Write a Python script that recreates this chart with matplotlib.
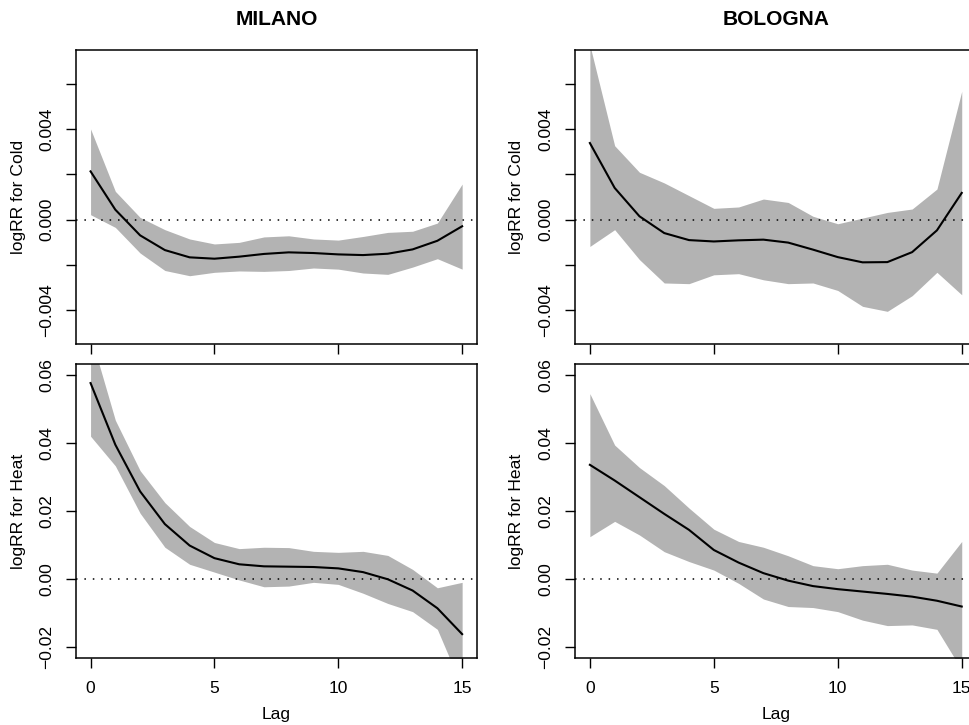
import matplotlib
matplotlib.use("Agg")
import matplotlib.pyplot as plt
import matplotlib.transforms as mtransforms

plt.rcParams['font.family'] = ['Liberation Sans', 'DejaVu Sans']

lags = list(range(16))
cities = ["MILANO", "BOLOGNA"]

milano_cold_fit = [0.00213, 0.00044, -0.00069, -0.00134, -0.00166, -0.00172, -0.00163, -0.00151,
                   -0.00144, -0.00147, -0.00153, -0.00156, -0.00150, -0.00131, -0.00093, -0.00029]
milano_cold_high = [0.00400, 0.00125, 0.00010, -0.00044, -0.00085, -0.00107, -0.00100, -0.00076,
                    -0.00071, -0.00085, -0.00090, -0.00074, -0.00056, -0.00051, -0.00015, 0.00157]
milano_cold_low = [0.00022, -0.00034, -0.00147, -0.00224, -0.00247, -0.00232, -0.00226, -0.00228,
                   -0.00224, -0.00213, -0.00218, -0.00235, -0.00241, -0.00209, -0.00172, -0.00218]

bologna_cold_fit = [0.00338, 0.00140, 0.00015, -0.00059, -0.00090, -0.00096, -0.00091, -0.00088,
                    -0.00101, -0.00132, -0.00165, -0.00188, -0.00187, -0.00143, -0.00047, 0.00118]
bologna_cold_high = [0.00770, 0.00326, 0.00209, 0.00162, 0.00106, 0.00050, 0.00056, 0.00091,
                     0.00076, 0.00015, -0.00018, 0.00007, 0.00032, 0.00047, 0.00135, 0.00566]
bologna_cold_low = [-0.00118, -0.00044, -0.00176, -0.00279, -0.00282, -0.00243, -0.00238, -0.00265,
                    -0.00282, -0.00279, -0.00312, -0.00382, -0.00404, -0.00335, -0.00232, -0.00331]

milano_heat_fit = [0.0576, 0.0395, 0.0258, 0.0162, 0.0099, 0.0062, 0.0044, 0.0038,
                   0.0037, 0.0036, 0.0032, 0.0021, 0.0000, -0.0033, -0.0085, -0.0161]
milano_heat_high = [0.0717, 0.0467, 0.0319, 0.0225, 0.0155, 0.0108, 0.0090, 0.0094,
                    0.0093, 0.0082, 0.0079, 0.0082, 0.0070, 0.0029, -0.0025, -0.0009]
milano_heat_low = [0.0420, 0.0333, 0.0194, 0.0094, 0.0044, 0.0021, -0.0002, -0.0022,
                   -0.0020, -0.0009, -0.0015, -0.0041, -0.0071, -0.0095, -0.0147, -0.0318]

bologna_heat_fit = [0.0336, 0.0290, 0.0241, 0.0192, 0.0145, 0.0086, 0.0049, 0.0018,
                    -0.0004, -0.0020, -0.0029, -0.0036, -0.0043, -0.0051, -0.0063, -0.0080]
bologna_heat_high = [0.0545, 0.0394, 0.0328, 0.0275, 0.0209, 0.0147, 0.0111, 0.0094,
                     0.0069, 0.0040, 0.0031, 0.0040, 0.0044, 0.0027, 0.0018, 0.0111]
bologna_heat_low = [0.0125, 0.0170, 0.0130, 0.0081, 0.0052, 0.0027, -0.0012, -0.0058,
                    -0.0080, -0.0083, -0.0095, -0.0120, -0.0136, -0.0134, -0.0147, -0.0266]

x_ticks = [0, 5, 10, 15]
x_ticklabels = ["0", "5", "10", "15"]
cold_ticks = [-0.004, -0.002, 0.0, 0.002, 0.004, 0.006]
cold_ticklabels = ["\u22120.004", "", "0.000", "", "0.004", ""]
heat_ticks = [-0.02, 0.0, 0.02, 0.04, 0.06]
heat_ticklabels = ["\u22120.02", "0.00", "0.02", "0.04", "0.06"]
cold_ylim = (-0.005, 0.007)
heat_ylim = (-0.02, 0.06)

W, H = 969, 725
fig = plt.figure(figsize=(W / 100, H / 100), dpi=100)
fig.patch.set_facecolor("white")

FS = 12.6
band_color = "#B3B3B3"

def px_axes(left, top, right, bottom):
    return fig.add_axes([left / W, 1 - bottom / H, (right - left) / W, (bottom - top) / H])

col_lefts = [75.7, 575.0]
col_rights = [477.0, 976.6]
row_tops = [50.0, 364.0]
row_bottoms = [344.0, 658.3]
ylabel_x = [19.0, 517.0]

panels = [
    [(milano_cold_fit, milano_cold_low, milano_cold_high),
     (milano_heat_fit, milano_heat_low, milano_heat_high)],
    [(bologna_cold_fit, bologna_cold_low, bologna_cold_high),
     (bologna_heat_fit, bologna_heat_low, bologna_heat_high)],
]

for c in range(2):
    for r in range(2):
        ax = px_axes(col_lefts[c], row_tops[r], col_rights[c], row_bottoms[r])
        fit, low, high = panels[c][r]
        ax.fill_between(lags, low, high, color=band_color, linewidth=0, zorder=1)
        ax.plot(lags, fit, color="black", linewidth=1.5, zorder=3)
        ax.axhline(0, color="black", linewidth=1.1, linestyle=(0, (1, 4.5)), zorder=2)
        span = 15
        ax.set_xlim(-0.04 * span, 15 + 0.04 * span)
        if r == 0:
            ylo, yhi = cold_ylim
            ax.set_yticks(cold_ticks)
            ax.set_yticklabels(cold_ticklabels)
            ax.set_ylabel("logRR for Cold", fontsize=FS)
        else:
            ylo, yhi = heat_ylim
            ax.set_yticks(heat_ticks)
            ax.set_yticklabels(heat_ticklabels)
            ax.set_ylabel("logRR for Heat", fontsize=FS)
        d = (yhi - ylo) * 0.04
        ax.set_ylim(ylo - d, yhi + d)
        ax.set_xticks(x_ticks)
        if r == 1:
            ax.set_xticklabels(x_ticklabels)
            ax.set_xlabel("Lag", fontsize=FS)
            ax.xaxis.set_label_coords(0.5, 1 - 719.5 / H,
                                      transform=mtransforms.blended_transform_factory(ax.transAxes, fig.transFigure))
            ax.xaxis.label.set_va("baseline")
        else:
            ax.set_xticklabels([])
            ax.set_title(cities[c], fontsize=FS * 1.2, fontweight="bold", pad=18)
        ax.yaxis.set_label_coords(ylabel_x[c] / W, 0.5,
                                  transform=mtransforms.blended_transform_factory(fig.transFigure, ax.transAxes))
        ax.yaxis.label.set_va("center")
        ax.tick_params(axis="both", direction="out", length=7.5, width=1.0,
                       labelsize=FS, color="black")
        ax.tick_params(axis="x", pad=9)
        ax.tick_params(axis="y", pad=8)
        for lab in ax.get_yticklabels():
            lab.set_rotation(90)
            lab.set_va("center")
        for s in ax.spines.values():
            s.set_linewidth(1.1)
            s.set_color("black")

fig.savefig("out.png", dpi=100, facecolor="white")
